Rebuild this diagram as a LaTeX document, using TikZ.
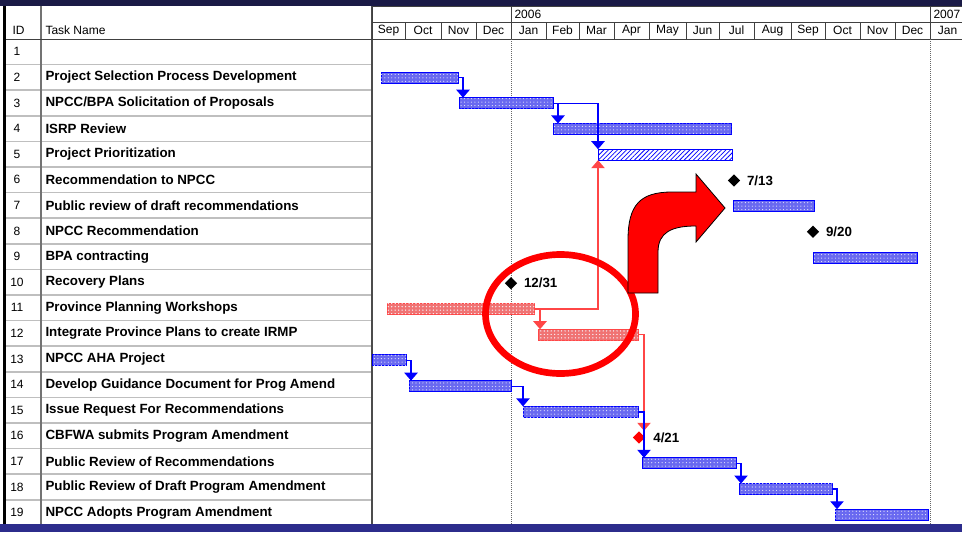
\documentclass[tikz,border=0pt]{standalone}
\usepackage{fontspec}
\setmainfont{Liberation Sans}
\usetikzlibrary{arrows.meta,positioning,shapes.geometric,patterns.meta}

\definecolor{bandtop}{RGB}{26,26,70}
\definecolor{bandbot}{RGB}{44,44,140}
\definecolor{barblue}{RGB}{105,105,240}
\definecolor{barred}{RGB}{240,115,115}
\definecolor{linkred}{RGB}{255,70,70}

\tikzset{every picture/.style={line width=0.75pt}}
\tikzset{
  bluebar/.style={draw=blue, fill=barblue, line width=0.75pt, minimum height=8.25pt, inner sep=0pt, outer sep=0pt,
    postaction={pattern={Dots[distance=2.6pt,radius=0.45pt]}, pattern color=white!85!barblue}},
  redbar/.style={bluebar, draw=linkred, fill=barred,
    postaction={pattern={Dots[distance=2.6pt,radius=0.45pt]}, pattern color=white!85!barred}},
  hatchbar/.style={draw=blue, line width=0.75pt, minimum height=8.25pt, inner sep=0pt, outer sep=0pt, fill=white,
    postaction={pattern={Lines[angle=45,distance=2.4pt,line width=0.55pt]}, pattern color=blue}},
  link/.style={draw=blue, line width=1pt, -{Triangle[width=10pt,length=6pt]}},
  redlink/.style={link, draw=linkred},
  mile/.style={diamond, fill=black, inner sep=0pt, minimum size=9.5pt},
  mlabel/.style={inner sep=0.75pt, font=\fontsize{10}{12}\selectfont\bfseries},
  task/.style={anchor=west, inner sep=0.75pt, font=\fontsize{10}{12}\selectfont\bfseries},
  hdr/.style={inner sep=0.75pt, font=\fontsize{9}{10}\selectfont},
  cell/.style={draw=black!75, line width=0.75pt},
  rowline/.style={draw=black!25, line width=1.2pt},
  dotline/.style={draw=black!60, line width=0.75pt, dash pattern={on 0.75pt off 0.75pt}}
}

\begin{document}
\begin{tikzpicture}[x=0.75pt,y=0.75pt,yscale=-1,xscale=1]
\useasboundingbox (0,0) rectangle (962,532);
\clip (0,0) rectangle (962,532);

%Bands top and bottom
\fill[bandtop] (0,0) rectangle (962,6);
\fill[bandbot] (0,524) rectangle (962,532);
\fill[black] (3,6) rectangle (6,524);

%Table grid
\foreach \r in {1,...,18}
  \draw[rowline] (6,{39+\r*25.6}) -- (372,{39+\r*25.6});
\draw[draw=black!55, line width=1.2pt] (41,6) -- (41,524);
\draw[draw=black!70, line width=1.2pt] (372,6) -- (372,524);
\draw[cell] (6,39) -- (962,39);

%Header
\node[hdr, anchor=west] (hid) at (11,30.5) {ID};
\node[hdr, anchor=west] (hname) at (44,30.5) {Task Name};
\draw[cell] (372,6) rectangle (511,22);
\draw[cell] (511,6) rectangle (930,22);
\draw[cell] (930,6) rectangle (970,22);
\node[hdr, anchor=west] (y06) at (513,14) {2006};
\node[hdr, anchor=west] (y07) at (932,14) {2007};
\foreach \m/\a/\b [count=\i] in {Sep/372/405, Oct/405/441, Nov/441/476, Dec/476/511, Jan/511/546, Feb/546/579, Mar/579/614, Apr/614/649, May/649/686, Jun/686/719, Jul/719/754, Aug/754/791, Sep/791/825, Oct/825/860, Nov/860/895, Dec/895/930, Jan/930/965}
{
  \draw[cell] (\a,22) rectangle (\b,39);
  \node[hdr] (mo\i) at ({(\a+\b)/2},30.5) {\m};
}

%IDs
\foreach \r in {1,...,19}
  \node[hdr] (id\r) at (17,{39+(\r-0.5)*25.6}) {\r};

% Text Node
\node[task] (n2) at (44,{39+1.5*25.6}) {Project Selection Process Development};
\node[task] (n3) at (44,{39+2.5*25.6}) {NPCC/BPA Solicitation of Proposals};
\node[task] (n4) at (44,{39+3.5*25.6}) {ISRP Review};
\node[task] (n5) at (44,{39+4.5*25.6}) {Project Prioritization};
\node[task] (n6) at (44,{39+5.5*25.6}) {Recommendation to NPCC};
\node[task] (n7) at (44,{39+6.5*25.6}) {Public review of draft recommendations};
\node[task] (n8) at (44,{39+7.5*25.6}) {NPCC Recommendation};
\node[task] (n9) at (44,{39+8.5*25.6}) {BPA contracting};
\node[task] (n10) at (44,{39+9.5*25.6}) {Recovery Plans};
\node[task] (n11) at (44,{39+10.5*25.6}) {Province Planning Workshops};
\node[task] (n12) at (44,{39+11.5*25.6}) {Integrate Province Plans to create IRMP};
\node[task] (n13) at (44,{39+12.5*25.6}) {NPCC AHA Project};
\node[task] (n14) at (44,{39+13.5*25.6}) {Develop Guidance Document for Prog Amend};
\node[task] (n15) at (44,{39+14.5*25.6}) {Issue Request For Recommendations};
\node[task] (n16) at (44,{39+15.5*25.6}) {CBFWA submits Program Amendment};
\node[task] (n17) at (44,{39+16.5*25.6}) {Public Review of Recommendations};
\node[task] (n18) at (44,{39+17.5*25.6}) {Public Review of Draft Program Amendment};
\node[task] (n19) at (44,{39+18.5*25.6}) {NPCC Adopts Program Amendment};

%Year lines
\draw[dotline] (511,39) -- (511,524);
\draw[dotline] (930,39) -- (930,524);

%Bars
\foreach \r/\a/\b/\s in {2/381/458/bluebar, 3/459/553/bluebar, 4/553/731/bluebar, 5/598/732/hatchbar, 7/733/814/bluebar, 9/813/917/bluebar, 11/387/534/redbar, 12/538/638/redbar, 13/372/406/bluebar, 14/409/511/bluebar, 15/523/638/bluebar, 17/642/736/bluebar, 18/739/832/bluebar, 19/835/928/bluebar}
  \node[\s, minimum width={(\b-\a)*0.75pt}] (t\r) at ({(\a+\b)/2},{51.8+(\r-1)*25.72}) {};

%Milestones
\node[mile] (m6) at (734,{51.8+5*25.72}) {};
\node[mlabel, right=3.5pt of m6] (d6) {7/13};
\node[mile] (m8) at (813,{51.8+7*25.72}) {};
\node[mlabel, right=3.5pt of m8] (d8) {9/20};
\node[mile] (m10) at (511,{51.8+9*25.72}) {};
\node[mlabel, right=3.5pt of m10] (d10) {12/31};
\node[mile, fill=red] (m16) at (639,{51.8+15*25.72}) {};
\node[mlabel, right=4.5pt of m16] (d16) {4/21};

%Links
\draw[link] (t2.east) -- ++(5,0) coordinate (k2) -- (k2 |- t3.north);
\draw[link] (t3.east) -- ++(5,0) coordinate (k3) -- (k3 |- t4.north);
\draw[link] (t3.east) -| (t5.north west);
\draw[redlink] (t11.east) -| (t5.south west);
\draw[redlink] (t11.east) -- ++(6,0) coordinate (k11) -- (k11 |- t12.north);
\draw[redlink] (t12.east) -- ++(6,0) coordinate (k12) -- (k12 |- m16.north);
\draw[link] (t13.east) -- ++(5,0) coordinate (k13) -- (k13 |- t14.north);
\draw[link] (t14.east) -| (t15.north west);
\draw[link] (t15.east) -- ++(6,0) coordinate (k15) -- (k15 |- t17.north);
\draw[link] (t17.east) -- ++(5,0) coordinate (k17) -- (k17 |- t18.north);
\draw[link] (t18.east) -- ++(5,0) coordinate (k18) -- (k18 |- t19.north);

%Ellipse
\draw[red, line width=5pt] (560.5,314) ellipse [x radius=75, y radius=59.5];

%Bent arrow
\draw[fill=red, draw=black, line width=0.6pt] (628,293) -- (628,240) .. controls (628,205) and (640,192) .. (672,192) -- (696,192) -- (696,174) -- (725,208) -- (696,242) -- (696,226) .. controls (672,226) and (658,232) .. (658,252) -- (658,293) -- cycle;

\end{tikzpicture}
\end{document}
